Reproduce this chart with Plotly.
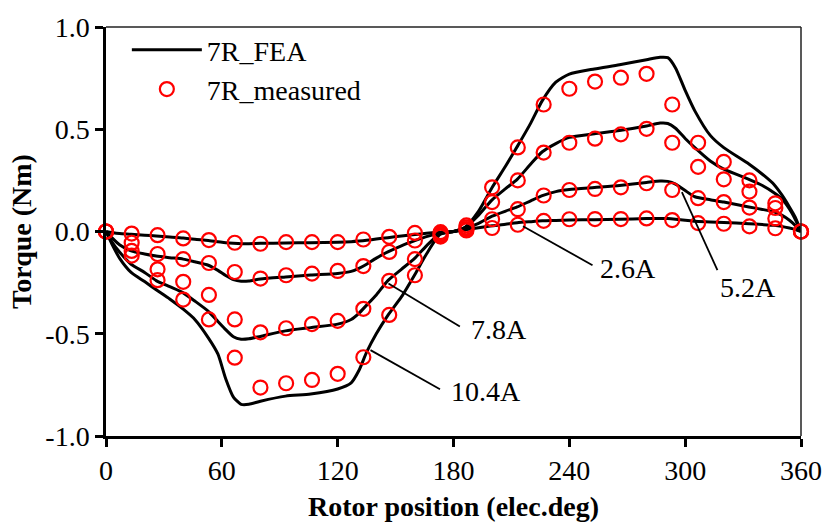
import plotly.graph_objects as go

# ---------------- data ----------------
fea_angle = [0, 3, 7, 13, 20, 26, 33, 40, 46, 53, 58, 62, 66, 70, 74, 80, 93, 106, 120, 127,
             131, 135, 140, 146, 153, 160, 166, 173, 180, 186, 193, 200, 207, 213, 220, 226,
             233, 240, 253, 266, 280, 287, 291, 295, 300, 305, 313, 320, 333, 340, 346, 350,
             354, 357, 360]

fea_2p6 = [0, -0.005, -0.01, -0.013, -0.018, -0.022, -0.027, -0.032, -0.038, -0.044, -0.05,
           -0.055, -0.058, -0.06, -0.06, -0.058, -0.056, -0.055, -0.053, -0.05, -0.047, -0.043,
           -0.037, -0.03, -0.022, -0.015, -0.009, -0.004, 0.0, 0.008, 0.018, 0.028, 0.036,
           0.043, 0.048, 0.052, 0.054, 0.056, 0.058, 0.06, 0.063, 0.064, 0.063, 0.06, 0.055,
           0.05, 0.047, 0.044, 0.038, 0.034, 0.03, 0.025, 0.017, 0.01, 0]

fea_5p2 = [0, -0.03, -0.065, -0.095, -0.11, -0.12, -0.128, -0.135, -0.148, -0.165, -0.19,
           -0.215, -0.235, -0.243, -0.242, -0.232, -0.222, -0.213, -0.205, -0.195, -0.18, -0.16,
           -0.13, -0.1, -0.07, -0.045, -0.025, -0.008, 0.0, 0.015, 0.04, 0.075, 0.1, 0.12, 0.15,
           0.175, 0.195, 0.205, 0.215, 0.225, 0.24, 0.247, 0.245, 0.232, 0.2, 0.17, 0.155,
           0.144, 0.12, 0.108, 0.096, 0.08, 0.055, 0.03, 0]

fea_7p8 = [0, -0.05, -0.1, -0.16, -0.2, -0.24, -0.27, -0.3, -0.34, -0.39, -0.44, -0.48,
           -0.515, -0.527, -0.525, -0.513, -0.486, -0.47, -0.453, -0.43, -0.4, -0.36, -0.31,
           -0.24, -0.185, -0.13, -0.07, -0.01, 0.0, 0.02, 0.08, 0.155, 0.21, 0.255, 0.33, 0.39,
           0.43, 0.46, 0.478, 0.494, 0.516, 0.53, 0.528, 0.505, 0.455, 0.41, 0.345, 0.305,
           0.255, 0.225, 0.19, 0.16, 0.11, 0.06, 0]

fea_10p4 = [0, -0.06, -0.13, -0.2, -0.245, -0.285, -0.33, -0.38, -0.43, -0.52, -0.6, -0.72,
            -0.81, -0.845, -0.845, -0.83, -0.805, -0.795, -0.77, -0.74, -0.68, -0.59, -0.5,
            -0.41, -0.32, -0.21, -0.11, -0.015, 0.0, 0.02, 0.1, 0.215, 0.32, 0.415, 0.53, 0.64,
            0.73, 0.77, 0.795, 0.815, 0.84, 0.852, 0.85, 0.8, 0.69, 0.59, 0.47, 0.41, 0.33,
            0.28, 0.23, 0.18, 0.12, 0.07, 0]

meas_angle = [0, 13.3, 26.7, 40, 53.3, 66.7, 80, 93.3, 106.7, 120, 133.3, 146.7, 160, 173.3,
              186.7, 200, 213.3, 226.7, 240, 253.3, 266.7, 280, 293.3, 306.7, 320, 333.3,
              346.7, 360]

meas_2p6 = [0, -0.01, -0.018, -0.034, -0.042, -0.055, -0.06, -0.052, -0.052, -0.052, -0.039,
            -0.026, -0.007, -0.003, 0.005, 0.017, 0.033, 0.052, 0.06, 0.061, 0.061, 0.064,
            0.056, 0.041, 0.038, 0.025, 0.016, 0]
meas_5p2 = [0, -0.055, -0.11, -0.135, -0.154, -0.198, -0.23, -0.214, -0.206, -0.193, -0.169,
            -0.1, -0.044, -0.01, 0.012, 0.06, 0.109, 0.176, 0.203, 0.208, 0.216, 0.236, 0.203,
            0.163, 0.144, 0.117, 0.064, 0]
meas_7p8 = [0, -0.095, -0.185, -0.246, -0.31, -0.43, -0.493, -0.473, -0.453, -0.437, -0.378,
            -0.241, -0.135, -0.018, 0.02, 0.144, 0.25, 0.386, 0.434, 0.454, 0.475, 0.502,
            0.434, 0.316, 0.255, 0.195, 0.115, 0]
meas_10p4 = [0, -0.118, -0.238, -0.333, -0.43, -0.617, -0.763, -0.742, -0.726, -0.696, -0.615,
             -0.408, -0.214, -0.025, 0.03, 0.216, 0.411, 0.621, 0.698, 0.733, 0.752, 0.771,
             0.621, 0.434, 0.34, 0.25, 0.138, 0]

x_ticks = [0, 60, 120, 180, 240, 300, 360]
x_ticklabels = ["0", "60", "120", "180", "240", "300", "360"]
y_ticks = [-1.0, -0.5, 0.0, 0.5, 1.0]
y_ticklabels = ["-1.0", "-0.5", "0.0", "0.5", "1.0"]

current_labels = ["2.6A", "5.2A", "7.8A", "10.4A"]
# leader line (from, to) and label anchor, in data units
label_from = [(216, 0.026), (298.3, 0.193), (146.3, -0.254), (137, -0.58)]
label_to = [(252, -0.165), (316.7, -0.189), (183.3, -0.465), (173, -0.771)]
label_pos = [(255, -0.179), (317.2, -0.274), (187.9, -0.48), (177.6, -0.78)]

# ---------------- figure ----------------
FONT = "Liberation Serif"
fig = go.Figure()

fea_sets = [fea_2p6, fea_5p2, fea_7p8, fea_10p4]
meas_sets = [meas_2p6, meas_5p2, meas_7p8, meas_10p4]

for i, ys in enumerate(fea_sets):
    fig.add_trace(go.Scatter(
        x=fea_angle, y=ys, mode="lines", name="7R_FEA",
        line=dict(color="black", width=3, shape="spline", smoothing=0.6),
        legendgroup="fea", showlegend=(i == 0), cliponaxis=False))

for i, ys in enumerate(meas_sets):
    fig.add_trace(go.Scatter(
        x=meas_angle, y=ys, mode="markers", name="7R_measured",
        marker=dict(symbol="circle-open", size=14, color="#ff0000",
                    line=dict(width=2.2, color="#ff0000")),
        legendgroup="meas", showlegend=(i == 0), cliponaxis=False))

shapes = []
for (x0, y0), (x1, y1) in zip(label_from, label_to):
    shapes.append(dict(type="line", xref="x", yref="y", x0=x0, y0=y0, x1=x1, y1=y1,
                       line=dict(color="black", width=1.8)))
# top and right frame (thin)
shapes.append(dict(type="line", xref="paper", yref="paper", x0=0, y0=1, x1=1, y1=1,
                   line=dict(color="#222222", width=1.5)))
shapes.append(dict(type="line", xref="paper", yref="paper", x0=1, y0=0, x1=1, y1=1,
                   line=dict(color="#222222", width=1.5)))

annotations = []
for txt, (xp, yp) in zip(current_labels, label_pos):
    annotations.append(dict(x=xp, y=yp, xref="x", yref="y", text=txt, showarrow=False,
                            xanchor="left", yanchor="middle",
                            font=dict(family=FONT, size=28, color="black")))

fig.update_layout(
    width=834, height=530,
    margin=dict(l=106, r=27, t=24, b=87),
    paper_bgcolor="white", plot_bgcolor="white",
    font=dict(family=FONT, size=28, color="black"),
    shapes=shapes, annotations=annotations,
    legend=dict(x=0.03, y=1.005, xanchor="left", yanchor="top",
                bgcolor="rgba(0,0,0,0)", font=dict(family=FONT, size=28),
                tracegroupgap=0, itemwidth=70),
    showlegend=True,
)
fig.update_xaxes(range=[0, 360], tickvals=x_ticks, ticktext=x_ticklabels,
                 showgrid=False, zeroline=False, showline=True, linecolor="black",
                 linewidth=2.5, ticks="outside", ticklen=8, tickwidth=2.5, tickcolor="black",
                 tickfont=dict(family=FONT, size=28),
                 title=dict(text="<b>Rotor position (elec.deg)</b>", standoff=12,
                            font=dict(family=FONT, size=28)))
fig.update_yaxes(range=[-1, 1], tickvals=y_ticks, ticktext=y_ticklabels,
                 showgrid=False, zeroline=False, showline=True, linecolor="black",
                 linewidth=2.5, ticks="outside", ticklen=8, tickwidth=2.5, tickcolor="black",
                 tickfont=dict(family=FONT, size=28),
                 title=dict(text="<b>Torque (Nm)</b>", standoff=6,
                            font=dict(family=FONT, size=28)))

fig.write_html("out.html")
